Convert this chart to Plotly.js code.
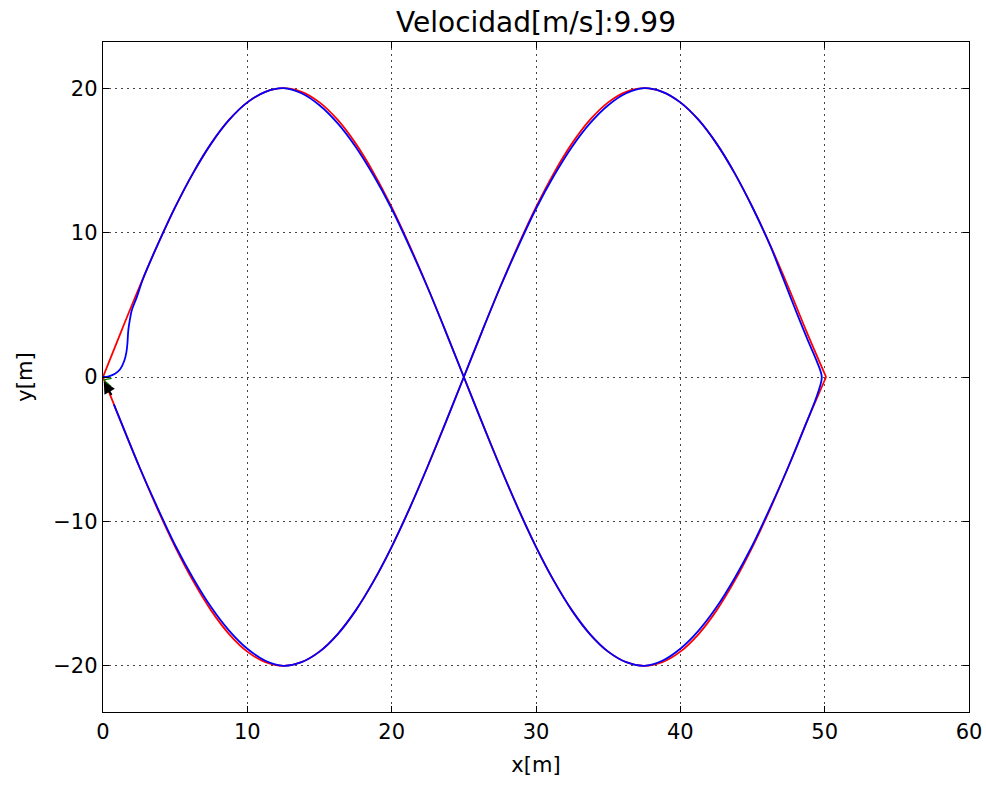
<!DOCTYPE html>
<html>
<head>
<meta charset="utf-8">
<script src="https://cdn.plot.ly/plotly-3.0.1.min.js"></script>
<style>html,body{margin:0;padding:0;background:#fff;}#chart{width:986px;height:785px;}</style>
</head>
<body>
<div id="chart"></div>
<script>
// Reference path (red): two branches sharing x positions
const refX = [0,1.25,2.5,3.75,5,6.25,7.5,8.75,10,11.25,12.5,13.75,15,16.25,17.5,18.75,20,21.25,22.5,23.75,25,26.25,27.5,28.75,30,31.25,32.5,33.75,35,36.25,37.5,38.75,40,41.25,42.5,43.75,45,46.25,47.5,48.75,50.1];
const refUpperY = [0,3.13,6.18,9.08,11.76,14.14,16.18,17.82,19.02,19.75,20,19.75,19.02,17.82,16.18,14.14,11.76,9.08,6.18,3.13,0,-3.13,-6.18,-9.08,-11.76,-14.14,-16.18,-17.82,-19.02,-19.75,-20,-19.75,-19.02,-17.82,-16.18,-14.14,-11.76,-9.08,-6.18,-3.13,0];
const refLowerY = [0,-3.13,-6.18,-9.08,-11.76,-14.14,-16.18,-17.82,-19.02,-19.75,-20,-19.75,-19.02,-17.82,-16.18,-14.14,-11.76,-9.08,-6.18,-3.13,0,3.13,6.18,9.08,11.76,14.14,16.18,17.82,19.02,19.75,20,19.75,19.02,17.82,16.18,14.14,11.76,9.08,6.18,3.13,0];

// Vehicle trajectory (blue)
const trajX = [0,0.4,0.83,1.2,1.48,1.62,1.69,1.75,1.85,1.99,2.34,2.7,3.03,3.75,5,6.25,7.5,8.75,10,11.25,12.5,13.75,15,16.25,17.5,18.75,20,21.25,22.5,23.75,25,26.25,27.5,28.75,30,31.25,32.5,33.75,35,36.25,37.5,38.75,40,41.25,42.5,43.75,45,46.25,47.5,48.75,49.5,49.8,
               49.45,48.85,48.32,47.86,47.43,46.86,46.25,45,43.75,42.5,41.25,40,38.75,37.5,36.25,35,33.75,32.5,31.25,30,28.75,27.5,26.25,25,23.75,22.5,21.25,20,18.75,17.5,16.25,15,13.75,12.5,11.25,10,8.75,7.5,6.25,5,3.75,2.5,1.25,0.75];
const trajY = [0,0.05,0.22,0.55,1.14,1.7,2.3,3.2,3.9,4.6,5.53,6.6,7.43,9.08,11.76,14.14,16.18,17.82,19.02,19.75,20,19.65,18.82,17.58,15.95,13.95,11.65,9.0,6.18,3.13,0,-3.13,-6.18,-9.08,-11.76,-14.14,-16.18,-17.82,-19.02,-19.75,-20,-19.65,-18.82,-17.58,-15.95,-13.95,-11.65,-9.0,-6.18,-3.13,-1.2,0,
               1.1,2.5,3.8,4.95,6.05,7.5,9.05,11.74,14.14,16.18,17.82,19.02,19.75,20,19.65,18.82,17.58,15.95,13.95,11.65,9.0,6.18,3.13,0,-3.13,-6.18,-9.08,-11.76,-14.14,-16.18,-17.82,-19.02,-19.75,-20,-19.65,-18.82,-17.58,-15.95,-13.95,-11.65,-9.0,-6.18,-3.13,-1.9];

// Small green marker near the start
const markX = [0.6,0.05,0.55];
const markY = [-0.1,-0.2,-0.65];

// Heading arrow (tail -> head)
const arrowTail = [0.65,-1.35];
const arrowHead = [0.05,-0.3];

const xTicks = [0,10,20,30,40,50,60];
const yTicks = [-20,-10,0,10,20];
const titleText = 'Velocidad[m/s]:9.99';

const font = 'DejaVu Sans, sans-serif';

const traces = [
  {x: refX, y: refUpperY, mode: 'lines', line: {color: '#ff0000', width: 1.8, shape: 'spline', smoothing: 1}, hoverinfo: 'skip'},
  {x: refX, y: refLowerY, mode: 'lines', line: {color: '#ff0000', width: 1.8, shape: 'spline', smoothing: 1}, hoverinfo: 'skip'},
  {x: trajX, y: trajY, mode: 'lines', line: {color: '#0000ff', width: 1.8, shape: 'spline', smoothing: 0.9}, hoverinfo: 'skip'},
  {x: markX, y: markY, mode: 'lines', line: {color: '#008000', width: 1.2}, hoverinfo: 'skip'}
];

const axisCommon = {
  showline: true, linecolor: '#000', linewidth: 1.3, mirror: 'ticks',
  ticks: 'inside', ticklen: 6, tickcolor: '#000', tickwidth: 1,
  showgrid: true, gridcolor: '#444', griddash: '2px,4px', gridwidth: 1,
  zeroline: false, tickfont: {family: font, size: 21, color: '#000'}
};

const layout = {
  width: 986, height: 785,
  margin: {l: 103, r: 17, t: 42, b: 73},
  paper_bgcolor: '#fff', plot_bgcolor: '#fff',
  showlegend: false,
  title: {text: titleText, font: {family: font, size: 28, color: '#000'}, xref: 'paper', x: 0.5, xanchor: 'center', yref: 'container', y: 0.972, yanchor: 'middle'},
  xaxis: Object.assign({}, axisCommon, {range: [0, 60], tickvals: xTicks, ticktext: xTicks.map(String),
    title: {text: 'x[m]', font: {family: font, size: 21, color: '#000'}, standoff: 14}}),
  yaxis: Object.assign({}, axisCommon, {range: [-23.2, 23.2], tickvals: yTicks,
    ticktext: yTicks.map(v => v < 0 ? '\u2212' + Math.abs(v) : String(v)),
    title: {text: 'y[m]', font: {family: font, size: 21, color: '#000'}, standoff: 14}}),
  annotations: [{
    x: arrowHead[0], y: arrowHead[1], ax: arrowTail[0], ay: arrowTail[1],
    xref: 'x', yref: 'y', axref: 'x', ayref: 'y',
    showarrow: true, arrowhead: 2, arrowsize: 1.2, arrowwidth: 2, arrowcolor: '#000', text: ''
  }]
};

Plotly.newPlot('chart', traces, layout, {displayModeBar: false, staticPlot: true});
</script>
</body>
</html>
